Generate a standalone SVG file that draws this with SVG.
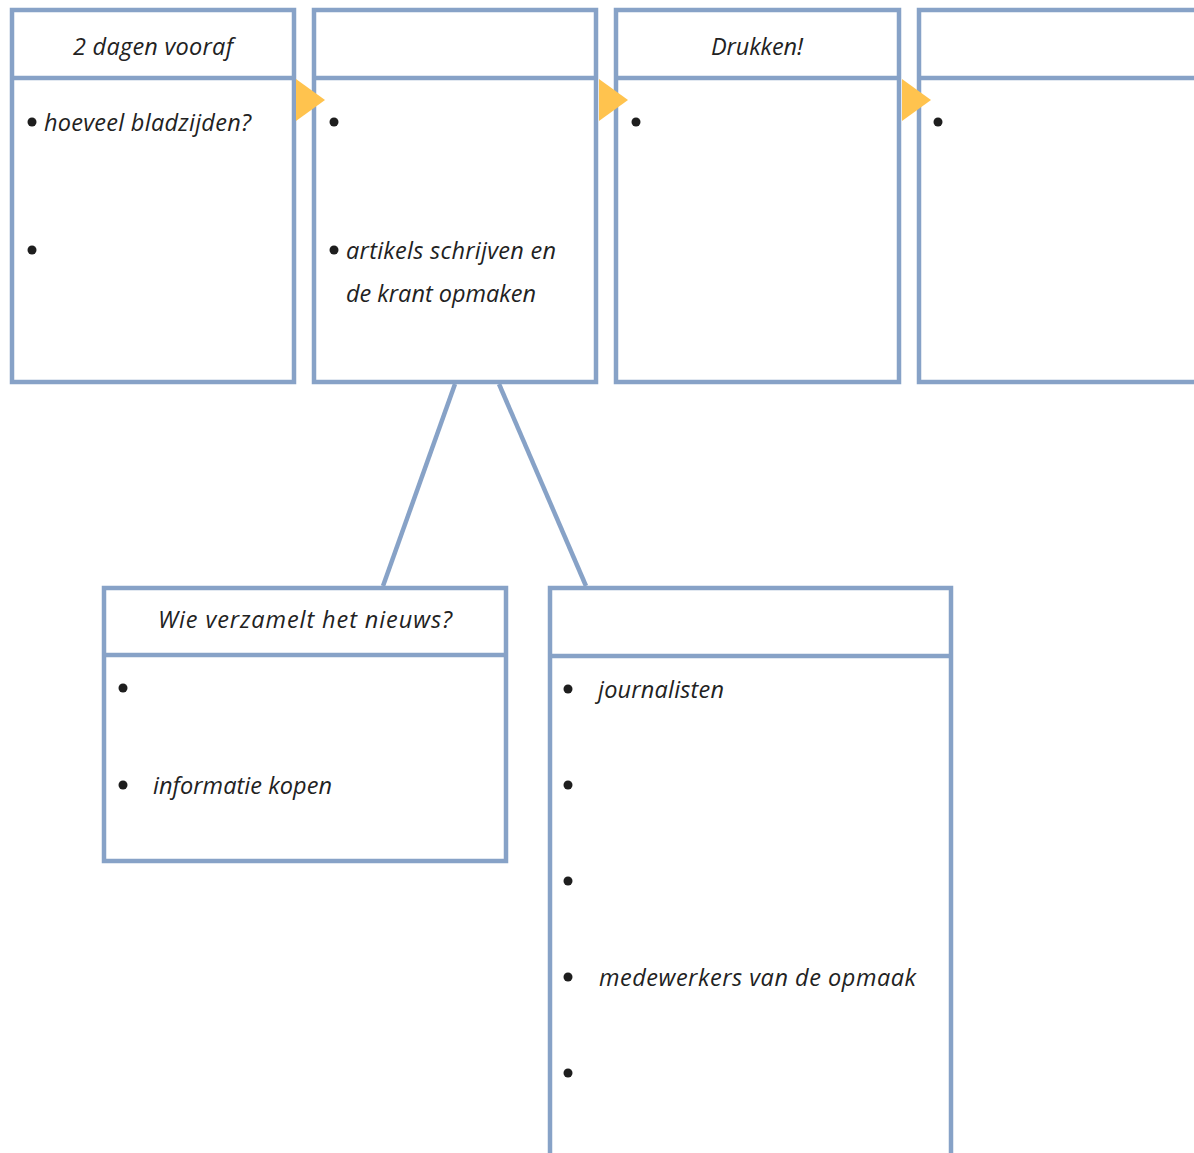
<svg xmlns="http://www.w3.org/2000/svg" width="1194" height="1153" viewBox="0 0 1194 1153">
<style>
.box{fill:#fff;stroke:#87A2C7;stroke-width:4.5}
.div{stroke:#87A2C7;stroke-width:4.5}
.con{stroke:#87A2C7;stroke-width:4.5;fill:none}
.tri{fill:#FFC34E}
.t{font-family:"Open Sans","Liberation Sans",sans-serif;font-style:italic;font-size:23.5px;fill:#222}
.h{text-anchor:middle}
.dot{fill:#1e1e1e}
</style>
<rect width="1194" height="1153" fill="#fff"/>
<g id="connectors">
<line class="con" x1="455" y1="384" x2="383" y2="586"/>
<line class="con" x1="499" y1="384" x2="586" y2="586"/>
</g>
<g id="box1">
<rect class="box" x="12" y="10" width="282" height="372"/>
<line class="div" x1="12" y1="78" x2="294" y2="78"/>
<text class="t" x="73" y="55" textLength="160" lengthAdjust="spacing">2 dagen vooraf</text>
<circle class="dot" cx="32" cy="122" r="4.5"/>
<text class="t" x="44" y="131" textLength="207" lengthAdjust="spacing">hoeveel bladzijden?</text>
<circle class="dot" cx="32" cy="250" r="4.5"/>
</g>
<g id="box2">
<rect class="box" x="314" y="10" width="282" height="372"/>
<line class="div" x1="314" y1="78" x2="596" y2="78"/>
<circle class="dot" cx="334" cy="122" r="4.5"/>
<circle class="dot" cx="334" cy="250" r="4.5"/>
<text class="t" x="346" y="259" textLength="210" lengthAdjust="spacing">artikels schrijven en</text>
<text class="t" x="346" y="302" textLength="190" lengthAdjust="spacing">de krant opmaken</text>
</g>
<g id="box3">
<rect class="box" x="616" y="10" width="283" height="372"/>
<line class="div" x1="616" y1="78" x2="899" y2="78"/>
<text class="t" x="711" y="55" textLength="92" lengthAdjust="spacing">Drukken!</text>
<circle class="dot" cx="636" cy="122" r="4.5"/>
</g>
<g id="box4">
<rect class="box" x="919" y="10" width="290" height="372"/>
<line class="div" x1="919" y1="78" x2="1209" y2="78"/>
<circle class="dot" cx="938" cy="122" r="4.5"/>
</g>
<g id="arrows">
<polygon class="tri" points="296,79 325,100 296,121"/>
<polygon class="tri" points="599,79 628,100 599,121"/>
<polygon class="tri" points="902,79 931,100 902,121"/>
</g>
<g id="box5">
<rect class="box" x="104" y="588" width="402" height="273"/>
<line class="div" x1="104" y1="655" x2="506" y2="655"/>
<text class="t" x="158" y="628" textLength="294" lengthAdjust="spacing">Wie verzamelt het nieuws?</text>
<circle class="dot" cx="123" cy="688" r="4.5"/>
<circle class="dot" cx="123" cy="785" r="4.5"/>
<text class="t" x="153" y="794" textLength="179" lengthAdjust="spacing">informatie kopen</text>
</g>
<g id="box6">
<rect class="box" x="550" y="588" width="401" height="600"/>
<line class="div" x1="550" y1="656" x2="951" y2="656"/>
<circle class="dot" cx="568" cy="689" r="4.5"/>
<text class="t" x="598" y="698" textLength="126" lengthAdjust="spacing">journalisten</text>
<circle class="dot" cx="568" cy="785" r="4.5"/>
<circle class="dot" cx="568" cy="881" r="4.5"/>
<circle class="dot" cx="568" cy="977" r="4.5"/>
<text class="t" x="599" y="986" textLength="317" lengthAdjust="spacing">medewerkers van de opmaak</text>
<circle class="dot" cx="568" cy="1073" r="4.5"/>
</g>
</svg>
